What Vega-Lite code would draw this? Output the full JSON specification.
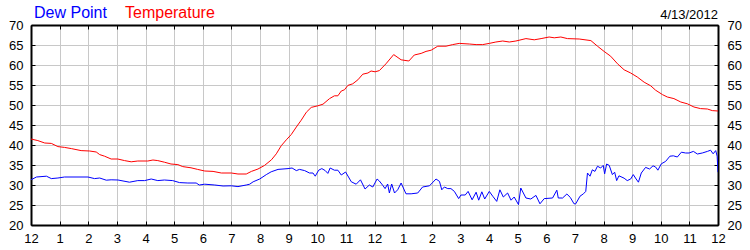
{
"$schema": "https://vega.github.io/schema/vega-lite/v6.json",
"width": 687, "height": 200,
"autosize": {"type": "none"},
"padding": {"left": 31, "top": 25, "right": 32, "bottom": 25},
"background": "white",
"config": {"view": {"stroke": null}, "font": "Liberation Sans"},
"title": {"text": "4/13/2012", "anchor": "end", "frame": "group", "fontSize": 13, "fontWeight": "normal", "color": "black", "baseline": "alphabetic", "offset": 0, "dy": 27, "font": "Liberation Sans"},
"datasets": {
"temp": [
{"h":0,"v":41.5},{"h":0.24,"v":41.1},{"h":0.48,"v":40.5},{"h":0.71,"v":40.4},{"h":0.94,"v":39.6},{"h":1.17,"v":39.4},{"h":1.41,"v":39.1},{"h":1.75,"v":38.6},{"h":2.05,"v":38.5},{"h":2.28,"v":38.25},{"h":2.4,"v":37.6},{"h":2.57,"v":37.2},{"h":2.8,"v":36.5},{"h":3.03,"v":36.5},{"h":3.27,"v":36.1},{"h":3.5,"v":35.8},{"h":3.73,"v":36.0},{"h":4.08,"v":36.0},{"h":4.26,"v":36.25},{"h":4.43,"v":36.1},{"h":4.66,"v":35.7},{"h":4.89,"v":35.25},{"h":5.13,"v":35.1},{"h":5.3,"v":34.6},{"h":5.59,"v":34.3},{"h":5.82,"v":33.9},
{"h":6.07,"v":33.5},{"h":6.36,"v":33.4},{"h":6.65,"v":33.0},{"h":7.0,"v":33.0},{"h":7.23,"v":32.75},{"h":7.52,"v":32.75},{"h":7.7,"v":33.4},{"h":7.93,"v":34.0},{"h":8.16,"v":34.9},{"h":8.4,"v":36.3},{"h":8.57,"v":37.8},{"h":8.74,"v":39.8},{"h":8.92,"v":41.3},{"h":9.09,"v":42.6},{"h":9.27,"v":44.5},{"h":9.44,"v":46.2},{"h":9.62,"v":48.2},{"h":9.79,"v":49.4},{"h":10.02,"v":49.8},{"h":10.2,"v":50.2},{"h":10.43,"v":51.6},{"h":10.6,"v":52.3},{"h":10.72,"v":52.3},{"h":10.84,"v":53.5},{"h":10.95,"v":53.8},{"h":11.07,"v":54.9},{"h":11.24,"v":55.3},{"h":11.42,"v":56.3},{"h":11.59,"v":57.7},{"h":11.77,"v":58.0},{"h":11.88,"v":58.5},{"h":12.02,"v":58.3},{"h":12.17,"v":58.6},
{"h":12.4,"v":60.3},{"h":12.67,"v":62.6},{"h":12.93,"v":61.3},{"h":13.2,"v":61.0},{"h":13.39,"v":62.5},{"h":13.63,"v":62.9},{"h":13.8,"v":63.4},{"h":13.98,"v":63.7},{"h":14.21,"v":64.7},{"h":14.5,"v":64.7},{"h":14.73,"v":65.1},{"h":14.96,"v":65.4},{"h":15.31,"v":65.25},{"h":15.55,"v":65.1},{"h":15.78,"v":65.1},{"h":16.01,"v":65.4},{"h":16.24,"v":65.75},{"h":16.48,"v":66.0},{"h":16.71,"v":65.75},{"h":16.94,"v":66.0},{"h":17.29,"v":66.6},{"h":17.58,"v":66.3},{"h":17.82,"v":66.6},{"h":18.1,"v":67.0},
{"h":18.28,"v":66.8},{"h":18.51,"v":67.0},{"h":18.74,"v":66.6},{"h":19.15,"v":66.5},{"h":19.56,"v":66.1},{"h":19.79,"v":64.7},{"h":20.02,"v":63.4},{"h":20.25,"v":62.2},{"h":20.49,"v":60.3},{"h":20.72,"v":58.8},{"h":20.95,"v":58.0},{"h":21.18,"v":57.0},{"h":21.42,"v":55.7},{"h":21.65,"v":54.8},{"h":21.82,"v":53.7},{"h":22.06,"v":52.6},{"h":22.23,"v":52.0},{"h":22.46,"v":51.6},{"h":22.7,"v":50.75},{"h":22.93,"v":50.3},{"h":23.16,"v":49.5},{"h":23.39,"v":49.1},{"h":23.63,"v":49.0},{"h":23.8,"v":48.6},{"h":24.0,"v":48.5}
],
"dew": [
{"h":0,"v":31.3},{"h":0.19,"v":32.0},{"h":0.54,"v":32.2},{"h":0.71,"v":31.6},{"h":0.94,"v":31.75},{"h":1.17,"v":32.0},{"h":1.99,"v":32.0},{"h":2.22,"v":31.6},{"h":2.4,"v":31.75},{"h":2.63,"v":31.2},{"h":2.8,"v":31.3},{"h":3.04,"v":31.25},{"h":3.44,"v":30.7},{"h":3.73,"v":31.1},{"h":3.97,"v":31.1},{"h":4.2,"v":31.5},{"h":4.43,"v":31.1},{"h":4.66,"v":31.25},{"h":4.95,"v":31.1},{"h":5.19,"v":30.6},{"h":5.48,"v":30.5},{"h":5.77,"v":30.5},{"h":5.88,"v":30.0},
{"h":6.07,"v":30.2},{"h":6.42,"v":30.0},{"h":6.71,"v":29.75},{"h":7.0,"v":29.8},{"h":7.23,"v":29.6},{"h":7.52,"v":30.0},{"h":7.64,"v":30.2},{"h":7.76,"v":30.8},{"h":7.99,"v":31.5},{"h":8.22,"v":32.6},{"h":8.39,"v":33.3},{"h":8.63,"v":33.9},{"h":8.98,"v":34.1},{"h":9.12,"v":34.25},{"h":9.27,"v":33.6},{"h":9.38,"v":33.9},{"h":9.56,"v":33.6},{"h":9.73,"v":33.0},{"h":9.85,"v":33.0},{"h":9.93,"v":32.2},{"h":10.05,"v":33.7},{"h":10.16,"v":34.1},{"h":10.28,"v":33.6},{"h":10.37,"v":32.9},{"h":10.45,"v":34.25},{"h":10.6,"v":33.7},{"h":10.72,"v":33.7},{"h":10.84,"v":32.5},{"h":10.99,"v":33.25},{"h":11.19,"v":30.8},{"h":11.36,"v":30.2},{"h":11.51,"v":31.3},{"h":11.67,"v":29.0},{"h":11.82,"v":30.0},{"h":11.94,"v":29.5},{"h":12.09,"v":31.5},
{"h":12.17,"v":31.0},{"h":12.29,"v":29.9},{"h":12.37,"v":29.1},{"h":12.46,"v":30.25},{"h":12.52,"v":28.0},{"h":12.6,"v":30.25},{"h":12.7,"v":28.0},{"h":12.81,"v":28.8},{"h":12.93,"v":30.5},{"h":13.1,"v":27.8},{"h":13.28,"v":27.8},{"h":13.51,"v":28.0},{"h":13.68,"v":29.5},{"h":13.92,"v":29.8},{"h":14.15,"v":31.5},{"h":14.27,"v":30.9},{"h":14.35,"v":28.8},{"h":14.44,"v":29.5},{"h":14.56,"v":29.1},{"h":14.67,"v":29.1},{"h":14.79,"v":28.4},{"h":14.94,"v":26.6},{"h":15.02,"v":27.5},{"h":15.17,"v":27.5},{"h":15.27,"v":28.4},{"h":15.41,"v":26.3},{"h":15.55,"v":28.2},{"h":15.64,"v":26.2},{"h":15.75,"v":28.3},{"h":15.85,"v":26.5},{"h":16.01,"v":28.4},{"h":16.13,"v":27.2},{"h":16.27,"v":25.9},{"h":16.38,"v":28.8},{"h":16.5,"v":27.0},{"h":16.65,"v":28.0},{"h":16.77,"v":26.2},{"h":16.88,"v":27.0},{"h":17.03,"v":25.1},{"h":17.11,"v":29.25},{"h":17.29,"v":26.75},{"h":17.46,"v":26.5},{"h":17.64,"v":27.4},{"h":17.78,"v":25.3},{"h":17.93,"v":26.6},{"h":18.22,"v":26.75},
{"h":18.37,"v":28.7},{"h":18.42,"v":26.75},{"h":18.57,"v":26.75},{"h":18.72,"v":27.75},{"h":18.84,"v":26.9},{"h":18.97,"v":25.3},{"h":19.03,"v":25.3},{"h":19.18,"v":27.2},{"h":19.3,"v":27.8},{"h":19.38,"v":28.4},{"h":19.44,"v":33.0},{"h":19.53,"v":32.2},{"h":19.61,"v":33.8},{"h":19.7,"v":33.4},{"h":19.79,"v":34.7},{"h":19.9,"v":34.25},{"h":19.99,"v":34.9},{"h":20.04,"v":32.8},{"h":20.11,"v":35.25},{"h":20.2,"v":34.9},{"h":20.31,"v":32.6},{"h":20.39,"v":33.2},{"h":20.46,"v":31.1},{"h":20.54,"v":32.3},{"h":20.72,"v":31.7},{"h":20.83,"v":31.1},{"h":20.95,"v":31.5},{"h":21.04,"v":32.6},{"h":21.14,"v":31.5},{"h":21.22,"v":30.7},{"h":21.32,"v":33.0},{"h":21.47,"v":34.4},{"h":21.61,"v":34.0},{"h":21.73,"v":34.8},{"h":21.82,"v":34.5},{"h":21.9,"v":33.7},{"h":22.02,"v":35.3},{"h":22.17,"v":35.9},{"h":22.32,"v":37.2},{"h":22.44,"v":37.3},{"h":22.58,"v":37.0},{"h":22.72,"v":38.2},{"h":22.87,"v":38.0},{"h":22.99,"v":38.0},{"h":23.14,"v":38.4},{"h":23.28,"v":37.75},{"h":23.45,"v":38.0},{"h":23.63,"v":38.4},{"h":23.74,"v":38.7},{"h":23.83,"v":37.8},{"h":23.92,"v":38.6},{"h":23.97,"v":37.2},{"h":24.0,"v":33.2}
]
},
"layer": [
{
"data": {"name": "dew"},
"transform": [{"calculate": "'Dew Point'", "as": "series"}],
"mark": {"type": "line", "strokeWidth": 1, "clip": true},
"encoding": {
"x": {"field": "h", "type": "quantitative", "scale": {"domain": [0, 24], "nice": false, "zero": false},
"axis": {"orient": "bottom", "title": null, "values": [0,1,2,3,4,5,6,7,8,9,10,11,12,13,14,15,16,17,18,19,20,21,22,23,24],
"labelExpr": "datum.value % 12 == 0 ? '12' : '' + (datum.value % 12)",
"grid": true, "gridColor": "#c8c8c8", "gridWidth": 1, "tickSize": -4, "tickColor": "black", "tickWidth": 1,
"domainColor": "black", "domainWidth": 2, "labelFontSize": 13, "labelFont": "Liberation Sans", "labelColor": "black",
"labelPadding": 11, "labelFlush": false, "labelOverlap": false, "labelBound": false}},
"y": {"field": "v", "type": "quantitative", "scale": {"domain": [20, 70], "nice": false, "zero": false},
"axis": {"orient": "left", "title": null, "values": [20,25,30,35,40,45,50,55,60,65,70],
"grid": true, "gridColor": "#c8c8c8", "gridWidth": 1, "tickSize": -4, "tickColor": "black", "tickWidth": 1,
"domainColor": "black", "domainWidth": 2, "labelFontSize": 13, "labelFont": "Liberation Sans", "labelColor": "black",
"labelPadding": 12, "labelFlush": false, "labelOverlap": false, "labelBound": false}},
"color": {"field": "series", "type": "nominal", "scale": {"domain": ["Dew Point", "Temperature"], "range": ["#0000ff", "#ff0000"]},
"legend": {"orient": "none", "legendX": -15, "legendY": -20, "direction": "horizontal", "title": null,
"symbolSize": 0, "symbolOpacity": 0, "symbolStrokeWidth": 0, "labelOffset": 2, "labelFontSize": 16, "labelFont": "Liberation Sans",
"columnPadding": 0, "padding": 0,
"encode": {"labels": {"update": {"fill": {"scale": "color", "field": "value"}}}}}}
}
},
{
"data": {"name": "temp"},
"transform": [{"calculate": "'Temperature'", "as": "series"}],
"mark": {"type": "line", "strokeWidth": 1, "clip": true},
"encoding": {
"x": {"field": "h", "type": "quantitative", "scale": {"domain": [0, 24], "nice": false, "zero": false},
"axis": {"orient": "top", "title": null, "values": [0,1,2,3,4,5,6,7,8,9,10,11,12,13,14,15,16,17,18,19,20,21,22,23,24],
"labels": false, "grid": false, "tickSize": -4, "tickColor": "black", "tickWidth": 1,
"domainColor": "black", "domainWidth": 2}},
"y": {"field": "v", "type": "quantitative", "scale": {"domain": [20, 70], "nice": false, "zero": false},
"axis": {"orient": "right", "title": null, "values": [20,25,30,35,40,45,50,55,60,65,70],
"grid": false, "tickSize": -4, "tickColor": "black", "tickWidth": 1,
"domainColor": "black", "domainWidth": 2, "labelFontSize": 13, "labelFont": "Liberation Sans", "labelColor": "black",
"labelPadding": 13, "labelFlush": false, "labelOverlap": false, "labelBound": false}},
"color": {"field": "series", "type": "nominal", "scale": {"domain": ["Dew Point", "Temperature"], "range": ["#0000ff", "#ff0000"]}}
}
}
],
"resolve": {"axis": {"x": "independent", "y": "independent"}}
}
